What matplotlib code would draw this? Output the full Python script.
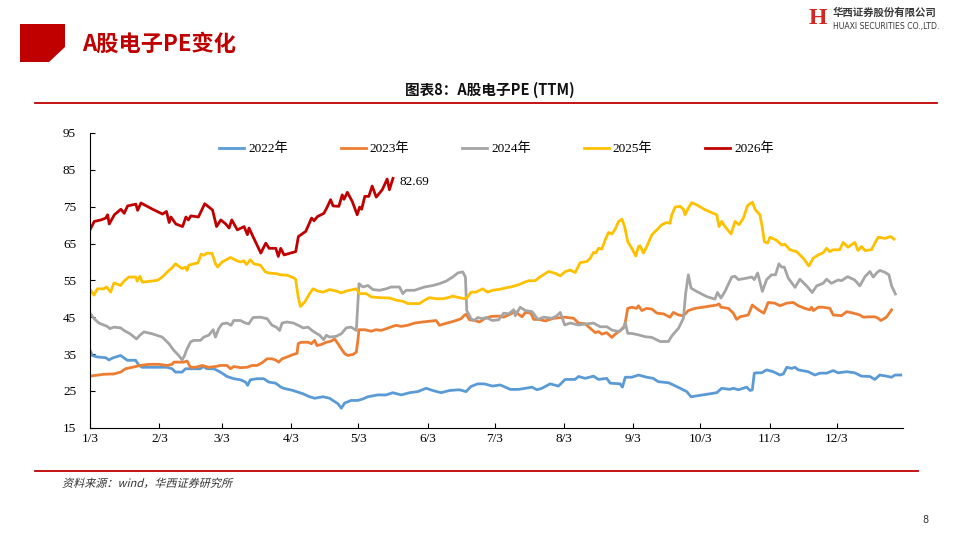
import matplotlib
matplotlib.use("Agg")
import matplotlib.pyplot as plt
from matplotlib.patches import Polygon, PathPatch
from matplotlib.lines import Line2D
from matplotlib.textpath import TextPath
from matplotlib.font_manager import FontProperties
from matplotlib.transforms import Affine2D

plt.rcParams['font.family'] = ['Liberation Serif', 'Noto Sans CJK SC']

# x = days since Jan 3, y = PE (TTM)
d2022 = [0, 1, 3.3, 7, 8.5, 10.4, 13.7, 16.7, 20.4, 21.9, 23.4, 28.6, 34.5, 36.7, 38.2, 41.2, 42.7, 46.4,
         49.4, 50.6, 52.4, 55.4, 58.3, 61.3, 64.3, 67.3, 69.5, 70.5, 71.7, 74.7, 77.7, 79.9, 82.9, 84.4, 85.1,
         86.6, 90.8, 95.3, 98.2, 100.5, 104.2, 107.1, 109.4, 110.9, 112.4, 113.9, 116.8, 119.8, 122, 124.3,
         128.7, 132.4, 135.4, 139.2, 142.9, 146.6, 150.3, 153.3, 157, 160.8, 165.2, 168.2, 170.4, 173.4,
         176.4, 180, 183.4, 185, 188, 191.7, 194.7, 197.7, 199.9, 202.1, 205.8, 209.5, 212.5, 216.9, 218.5,
         221.5, 225.2, 227.4, 231.1, 232.6, 237.1, 238.1, 239.4, 242.3, 245.3, 249, 251.9, 254.1, 258.7,
         260.9, 263.9, 266.9, 268.8, 280.3, 282.5, 286.2, 287.7, 290, 293.7, 295.2, 296.2, 297.1, 298.2,
         300.4, 302.6, 305.6, 308.6, 310.1, 311.6, 313.8, 315.3, 316.8, 321.2, 324.2, 326.4, 329.4, 332.4,
         334.6, 338.4, 342, 345, 348.8, 351, 353.2, 356.2, 358.5, 360, 362.6]
v2022 = [36.0, 34.6, 34.2, 34.0, 33.4, 34.0, 34.6, 33.3, 33.3, 31.9, 31.4, 31.4, 31.4, 31.0, 30.1, 30.1, 31.0,
         31.0, 31.0, 31.6, 31.0, 31.0, 30.1, 28.9, 28.3, 28.0, 27.4, 26.5, 28.0, 28.3, 28.3, 27.4, 27.1, 26.5,
         26.1, 25.7, 25.1, 24.2, 23.4, 23.0, 23.4, 23.0, 22.1, 21.5, 20.3, 21.7, 22.4, 22.4, 22.8, 23.4, 23.9,
         23.9, 24.5, 23.9, 24.5, 24.8, 25.7, 25.1, 24.5, 25.1, 25.3, 24.8, 26.2, 26.9, 26.9, 26.3, 26.6, 26.2,
         25.4, 25.4, 25.7, 26.0, 25.3, 25.7, 26.9, 26.3, 28.1, 28.1, 28.9, 28.4, 29.0, 28.1, 28.4, 27.1, 26.9,
         26.0, 28.7, 28.7, 29.3, 28.7, 28.4, 27.5, 27.2, 26.6, 25.7, 24.8, 23.4, 24.5, 25.7, 25.4, 25.7, 25.3,
         26.0, 25.1, 25.3, 29.8, 29.9, 29.9, 30.7, 30.2, 29.3, 29.6, 31.4, 31.1, 31.4, 30.7, 30.2, 29.3, 29.8,
         29.8, 30.5, 29.9, 30.2, 29.9, 29.0, 28.9, 28.1, 29.3, 29.0, 28.7, 29.3, 29.3]

d2023 = [0, 2.5, 6.2, 10.7, 13.7, 15.9, 18.9, 22.6, 26.3, 30.8, 34.5, 36.7, 37.5, 41.9, 43.4, 44.9, 47.2, 50.1,
         53.1, 56.1, 58.3, 61.3, 62.8, 64.3, 67.3, 70.2, 72.5, 74.7, 76.9, 79.2, 81.4, 82.9, 84.4, 85.9, 88.1,
         91, 92.6, 93.1, 94.5, 97.5, 99, 100.5, 101.5, 103.5, 105.7, 107.9, 109.4, 110.9, 112.4, 113.9, 115.3,
         117.6, 119.1, 119.8, 120.3, 122.8, 125.8, 128, 130.2, 132.5, 135.4, 136.9, 139.2, 142.1, 145.1,
         148.8, 153.3, 154.8, 156.3, 158.5, 161.5, 163.7, 166, 167.4, 168.2, 169.7, 171.9, 174.2, 176.4,
         179.3, 183, 185, 187.2, 190.2, 193.2, 194.7, 197.1, 198.5, 200.8, 203.6, 207.4, 212.5, 216.3, 218.5,
         221.5, 223.7, 226, 227.4, 228.9, 231.1, 233.4, 234.9, 237.1, 239.1, 240.5, 242.3, 244.5, 245.3,
         246.8, 249, 251.3, 253.5, 256.5, 259.4, 260.9, 263.2, 265.4, 267.6, 270.6, 274, 280.3, 281.3, 282.2,
         285.5, 287.7, 289.2, 290.7, 294.4, 296.2, 298.9, 301.4, 303.3, 306.3, 308.6, 311.5, 314.5, 316.8,
         319.7, 321.9, 322.7, 323.5, 325.7, 327.9, 330.9, 332.4, 336.1, 338.4, 341.4, 344.3, 345.8, 348.1,
         351, 352.5, 353.7, 356.2, 358.5]
v2023 = [29.0, 29.2, 29.5, 29.6, 30.1, 31.0, 31.4, 31.9, 32.2, 32.2, 31.9, 32.2, 32.8, 32.8, 33.1, 31.4, 31.4,
         31.9, 31.4, 31.6, 31.9, 31.9, 31.0, 31.6, 31.3, 31.4, 31.9, 31.9, 32.6, 33.7, 33.7, 33.4, 32.8, 33.7,
         34.2, 34.9, 35.2, 37.8, 38.2, 38.2, 37.8, 38.7, 37.3, 37.6, 38.2, 38.5, 39.1, 37.8, 36.4, 35.1, 34.6,
         34.9, 35.5, 38.7, 41.6, 41.6, 41.2, 41.6, 41.4, 41.9, 42.5, 42.8, 42.5, 42.8, 43.4, 43.7, 44.0, 44.1,
         42.8, 43.2, 43.7, 44.1, 44.6, 45.5, 45.8, 44.3, 44.1, 43.7, 44.6, 45.2, 45.3, 45.0, 45.6, 46.5, 45.1,
         46.3, 46.1, 44.4, 44.4, 44.0, 44.7, 45.0, 44.7, 43.4, 43.2, 42.0, 40.8, 41.1, 40.4, 40.8, 39.5, 40.4,
         41.3, 42.6, 47.4, 47.7, 47.4, 48.1, 46.8, 47.4, 47.2, 46.1, 45.9, 45.0, 46.3, 45.6, 45.4, 46.8, 47.4,
         47.7, 48.3, 48.6, 47.7, 47.4, 46.1, 44.4, 45.1, 45.6, 48.3, 47.0, 46.1, 49.0, 48.8, 48.1, 48.8, 49.0,
         48.1, 47.4, 47.0, 47.7, 46.8, 47.7, 47.7, 47.4, 45.6, 45.4, 46.5, 46.1, 45.6, 45.0, 45.1, 45.1, 44.7,
         44.1, 45.0, 47.0]

d2024 = [0, 1.8, 4, 7.7, 8.9, 10.7, 13.7, 15.2, 17.9, 20.8, 22.3, 24.1, 27.8, 32.3, 35.3, 37.5, 39.7, 41.2,
         42.3, 43.1, 45, 46.4, 49.4, 50.9, 53.1, 55.1, 56.1, 57.6, 59.1, 61.3, 63.1, 64.3, 67.3, 69.5, 71,
         72.9, 76.2, 79.2, 81.4, 83.3, 84.8, 85.9, 88.1, 91, 93.1, 95.3, 97.5, 99.7, 102.7, 104.5, 105.7, 107.1,
         110.1, 112.4, 114.6, 116.8, 119.1, 120.3, 122, 124.3, 126.5, 129.5, 132.4, 134.7, 138.4, 139.9, 141.4,
         145.1, 149.6, 153.3, 156.3, 159.3, 162.2, 164.5, 166.7, 167.9, 168.5, 170.4, 171.9, 173.4, 175.6,
         177.1, 180, 182.8, 185, 187.2, 189.5, 190.2, 192.4, 194.7, 197.7, 200.3, 202.9, 206.6, 208.8, 210.3,
         212.3, 214.8, 218.5, 222.2, 225.2, 228.2, 231.2, 233.4, 236.4, 238.6, 239.4, 240.5, 242.3, 245.3,
         248.3, 251.3, 255, 258.7, 260.2, 263.2, 265.4, 266.4, 267.6, 268.8, 271.3, 275.8, 279.5, 280.6,
         282.2, 284, 287, 288.5, 290, 293.7, 296, 297.1, 298.6, 300.7, 302.6, 304.8, 306.6, 308.1, 309.3,
         310.5, 312.3, 315.3, 317.5, 320.5, 323, 325, 327.9, 329.4, 331.6, 334.6, 336.1, 338.8, 342, 344.3,
         346.6, 348.8, 350.3, 351.8, 353.2, 355.5, 357.3, 358.5, 360.2]
v2024 = [46.1, 44.6, 43.4, 42.5, 41.9, 42.3, 42.1, 41.4, 40.5, 39.1, 40.1, 41.0, 40.5, 39.6, 37.8, 36.0, 34.6,
         33.4, 34.6, 36.0, 38.3, 38.7, 38.7, 39.6, 40.1, 41.6, 39.6, 41.9, 43.2, 43.4, 42.8, 44.1, 44.1, 43.4,
         43.2, 44.9, 45.0, 44.6, 42.8, 42.3, 41.4, 43.4, 43.7, 43.4, 42.8, 42.1, 42.3, 41.2, 40.1, 38.9, 40.1,
         39.6, 39.8, 40.5, 42.1, 42.3, 41.4, 54.1, 53.2, 53.6, 52.5, 52.3, 52.7, 53.2, 53.2, 51.4, 52.3, 52.3,
         53.2, 53.6, 54.1, 54.8, 55.9, 57.0, 57.3, 55.9, 46.8, 44.6, 44.1, 44.9, 44.6, 44.9, 44.1, 44.3, 46.1,
         45.9, 47.0, 45.4, 47.7, 46.8, 46.5, 44.4, 45.0, 44.7, 45.4, 46.3, 42.9, 43.4, 42.9, 43.2, 43.4, 42.4,
         42.4, 41.5, 41.1, 42.0, 43.5, 40.6, 40.6, 40.2, 39.7, 39.5, 38.4, 38.4, 39.9, 42.0, 44.7, 51.5, 56.5,
         52.9, 52.0, 50.6, 49.9, 51.7, 50.2, 52.0, 55.9, 56.1, 55.2, 55.6, 55.9, 55.2, 57.0, 52.0, 55.2, 56.5,
         56.5, 59.5, 58.6, 58.6, 55.6, 53.1, 55.3, 53.5, 51.7, 53.5, 54.2, 55.3, 54.2, 55.1, 54.9, 56.0, 55.1,
         53.5, 56.0, 57.4, 55.9, 57.0, 57.7, 57.2, 56.5, 53.5, 51.3]

d2025 = [0, 1.8, 3.3, 6.2, 7.4, 9.2, 10.7, 13.7, 15.2, 17.4, 20.4, 21.1, 22.3, 23.4, 30.1, 32.3, 35.3, 36.7,
         38.2, 41.2, 42.7, 43.4, 44.2, 46.4, 48.2, 49.7, 50.9, 52.4, 54.6, 56.1, 57.1, 59.1, 62.8, 65.8, 67.3,
         68.8, 70, 71.7, 73.2, 76.2, 78.4, 79.9, 83.6, 85.1, 88.1, 91.4, 92, 93.1, 94.1, 96, 98.2, 99.7, 101.9,
         104.2, 107.1, 110.1, 112.4, 114.6, 119.1, 120.6, 123.5, 125.8, 129.5, 134, 137, 140, 142.1, 144.4,
         147.4, 149.6, 151.8, 154.8, 157.8, 160, 162.2, 165.2, 167.4, 168.9, 170.4, 172.6, 175.6, 177.8, 180,
         183.4, 185.7, 188.7, 191.7, 194, 196.2, 199.1, 201.4, 205.1, 208.1, 210.3, 212.6, 214.8, 217, 219.2,
         222.2, 223.7, 225.2, 226.2, 227.4, 228.9, 230.4, 231.9, 233.4, 234.9, 236.4, 237.9, 239.1, 240.5,
         242.3, 244.1, 245.3, 246, 247.5, 249, 251.3, 253.5, 255.7, 257.9, 259.4, 260.2, 261.7, 263.9, 265.4,
         266.1, 267.6, 269.1, 271.3, 275, 280.3, 281.3, 282.5, 284, 286.7, 288.5, 290.3, 292.2, 294.1, 295.2,
         296.3, 297.4, 299.6, 300.6, 301.6, 303, 304.1, 307, 309.3, 310.8, 313, 316, 319, 321.5, 323.4, 325.7,
         327.9, 329.4, 330.9, 332.4, 335.3, 336.8, 339, 342, 343.5, 345, 346.6, 349.5, 351, 352.5, 355.5,
         358.1, 359.6]
v2025 = [52.5, 51.0, 52.7, 52.7, 53.2, 51.8, 54.3, 53.6, 54.8, 55.9, 55.9, 54.8, 56.1, 54.5, 55.0, 55.9, 57.7,
         58.4, 59.5, 58.2, 58.6, 57.7, 59.1, 59.5, 59.7, 62.1, 61.8, 62.4, 62.3, 59.5, 58.6, 60.0, 61.2, 60.3,
         60.0, 60.3, 59.3, 60.6, 59.5, 59.1, 57.3, 57.0, 56.8, 56.5, 56.4, 55.6, 55.2, 50.5, 47.9, 49.1, 51.4,
         52.7, 52.1, 51.8, 52.5, 52.1, 51.6, 52.1, 52.7, 51.4, 51.4, 50.5, 50.3, 50.2, 49.6, 49.3, 48.7, 48.7,
         48.7, 49.6, 50.3, 50.0, 50.0, 50.3, 50.7, 50.3, 50.0, 50.5, 51.8, 51.8, 52.7, 51.8, 52.3, 52.6, 52.9,
         53.3, 53.8, 54.4, 54.9, 54.9, 56.0, 57.4, 56.9, 56.2, 57.4, 57.8, 57.1, 59.8, 60.1, 61.0, 62.6, 62.4,
         63.7, 63.5, 66.0, 68.0, 67.6, 68.9, 71.0, 71.6, 69.6, 65.5, 63.7, 61.6, 64.2, 64.4, 62.4, 64.2, 67.4,
         68.7, 70.1, 70.7, 70.5, 72.8, 74.9, 75.1, 74.3, 72.8, 74.6, 76.1, 75.5, 74.2, 72.8, 69.6, 71.0, 69.6,
         67.6, 71.0, 70.1, 71.9, 75.3, 75.8, 76.2, 74.3, 72.8, 69.6, 65.5, 65.1, 66.7, 65.9, 64.6, 64.8, 63.3,
         62.8, 61.0, 58.9, 61.0, 61.9, 62.5, 63.7, 62.8, 63.3, 63.3, 65.3, 64.0, 65.3, 63.1, 64.2, 63.1, 63.3,
         65.1, 66.7, 66.4, 66.9, 66.2]

d2026 = [0, 1.9, 4.9, 7, 7.9, 8.6, 10.9, 13.8, 15.3, 16.8, 20.5, 21.3, 22.8, 28, 32.4, 34.2, 35.4, 36.2, 38.4,
         41.4, 42.9, 44, 45.1, 48.5, 51.3, 54.8, 56.6, 58.5, 60.7, 62.2, 63.4, 65.9, 68.9, 70.4, 71.1, 76.4,
         78.6, 80.1, 83.1, 84.2, 85.3, 86.8, 92, 93.2, 96.5, 99.1, 100.2, 101.7, 104.6, 106.1, 107.6, 108.7,
         111.3, 112.8, 113.6, 115.1, 117.3, 119.5, 120.6, 121.5, 122.9, 124.7, 126.2, 128, 130.7, 132.9,
         133.9, 135.5]
v2026 = [68.7, 71.0, 71.4, 71.9, 72.8, 70.3, 72.8, 74.3, 73.2, 75.2, 75.7, 74.0, 76.0, 74.3, 73.0, 73.7, 70.7,
         72.2, 70.3, 69.6, 72.2, 71.4, 72.5, 72.2, 75.8, 74.1, 69.6, 71.4, 70.3, 69.2, 71.4, 68.7, 69.6, 67.4,
         69.2, 62.4, 65.1, 63.7, 63.7, 61.5, 63.7, 61.9, 62.8, 66.9, 68.3, 71.9, 71.2, 72.3, 73.2, 74.9, 76.9,
         75.2, 75.1, 78.2, 77.0, 78.9, 76.4, 72.8, 74.9, 74.3, 77.8, 77.8, 80.6, 77.6, 79.6, 82.5, 79.6, 82.69]

years = ['2022年', '2023年', '2024年', '2025年', '2026年']
colors = ['#5B9BD5', '#ED7D31', '#A5A5A5', '#FFC000', '#C00000']
tick_pos = [0, 31, 59, 90, 120, 151, 181, 212, 243, 273, 304, 334]
tick_lab = ['1/3', '2/3', '3/3', '4/3', '5/3', '6/3', '7/3', '8/3', '9/3', '10/3', '11/3', '12/3']

fig = plt.figure(figsize=(9.6, 5.4), dpi=100)

def fx(px):
    return px / 960.0

def fy(py):
    return 1 - py / 540.0

# header
fig.add_artist(Polygon([(fx(20), fy(24)), (fx(65), fy(24)), (fx(65), fy(47)), (fx(49), fy(62)), (fx(20), fy(62))],
                       closed=True, transform=fig.transFigure, color='#C00000', lw=0))
fig.text(fx(82), fy(44), 'A股电子PE变化', fontsize=16, fontweight='bold', color='#C00000',
         family=['Noto Sans CJK SC'], va='center', ha='left')
fig.text(fx(818), fy(19), 'H', fontsize=17, fontweight='bold', color='#D7261E', family=['Liberation Serif'],
         va='center', ha='center')
fig.text(fx(833), fy(13), '华西证券股份有限公司', fontsize=7.5, fontweight='bold', color='#3A3A3A',
         family=['Noto Sans CJK SC'], va='center', ha='left')
fig.text(fx(833), fy(26), 'HUAXI SECURITIES CO.,LTD.', fontsize=5.6, color='#3A3A3A',
         family=['DejaVu Sans'], va='center', ha='left')

fig.text(fx(490), fy(90), '图表8：A股电子PE (TTM)', fontsize=10.5, fontweight='bold', color='#111111',
         family=['Noto Sans CJK SC'], va='center', ha='center')
fig.add_artist(Line2D([fx(35), fx(937)], [fy(103), fy(103)], transform=fig.transFigure, color='#C00000', lw=1.3))
fig.add_artist(Line2D([fx(35), fx(918)], [fy(471), fy(471)], transform=fig.transFigure, color='#C00000', lw=1.3))

# source line, slanted like the italic original (CJK font has no italic face)
src = TextPath((0, 0), '资料来源：wind，华西证券研究所', size=8,
               prop=FontProperties(family='Noto Sans CJK SC'))
src_tr = Affine2D().skew_deg(14, 0).scale(1 / 72.0).translate(62 / 100.0, (540 - 487) / 100.0) + fig.dpi_scale_trans
fig.add_artist(PathPatch(src, transform=src_tr, color='#333333', lw=0))
fig.text(fx(922), fy(520), '8', fontsize=7, color='#333333', family=['DejaVu Sans'], va='center')

# chart
ax = fig.add_axes([fx(90), fy(427.7), fx(813), (427.7 - 133) / 540.0])
for d, v, lab, c in zip([d2022, d2023, d2024, d2025, d2026], [v2022, v2023, v2024, v2025, v2026], years, colors):
    ax.plot(d, v, color=c, lw=2, label=lab, solid_joinstyle='round')

ax.text(d2026[-1] + 3, 81.6, '82.69', fontsize=9.5, va='center', ha='left')

ax.set_xlim(0, 363.6)
ax.set_ylim(15, 95)
ax.set_yticks(range(15, 96, 10))
ax.set_xticks(tick_pos)
ax.set_xticklabels(tick_lab)
ax.tick_params(direction='in', length=3.5, labelsize=9.5, width=0.8)
ax.tick_params(axis='y', pad=10)
ax.tick_params(axis='x', pad=4)
ax.spines['top'].set_visible(False)
ax.spines['right'].set_visible(False)
ax.spines['left'].set_linewidth(0.8)
ax.spines['bottom'].set_linewidth(0.8)

ax.legend(loc='center', bbox_to_anchor=(0.5, 0.946), ncol=5, frameon=False, fontsize=9.5,
          handlelength=1.9, handletextpad=0.3, columnspacing=4.0)

fig.savefig('out.png', dpi=100)
